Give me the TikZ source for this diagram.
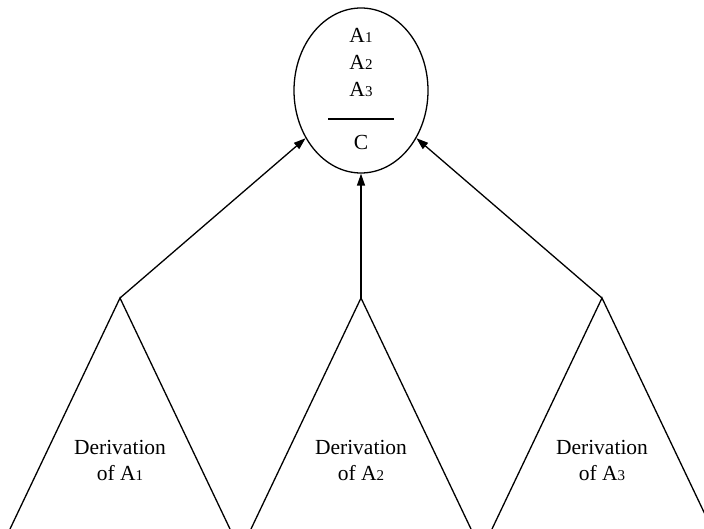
\documentclass[tikz,border=0pt]{standalone}
\usepackage{fontspec}
\setmainfont{Liberation Serif}
\usetikzlibrary{shapes.geometric,arrows.meta}

\newcommand{\idx}[1]{{\fontsize{15}{15}\selectfont #1}}

\def\dW{110}
\def\dH{231}
\def\dT{298}

\begin{document}
\begin{tikzpicture}[x=1pt,y=-1pt,line width=1.3pt,
    txt/.style={anchor=base,inner sep=0pt,font=\fontsize{21.5}{26}\selectfont},
    link/.style={-{Triangle[length=12pt,width=8pt]}}]
    \useasboundingbox (0,0) rectangle (704,529);

    %% goal: the rule with its premises
    \node[draw=black,shape=ellipse,minimum width=134pt,minimum height=165pt,inner sep=0pt] (goal) at (361,90.5) {};

    \node[txt] (P1) at (361, 43) {A\idx{1}};
    \node[txt] (P2) at (361, 70) {A\idx{2}};
    \node[txt] (P3) at (361, 97) {A\idx{3}};
    \coordinate (BL) at (328,119);
    \coordinate (BR) at (394,119);
    \draw (BL) -- (BR);
    \node[txt] (C)  at (361,150) {C};

    %% derivations of the premises
    \foreach \x/\i in {120/1, 361/2, 602/3} {
        \coordinate (T\i) at (\x,\dT);
        \draw (\x-\dW,\dT+\dH) -- (T\i) -- (\x+\dW,\dT+\dH);
        \node[txt] (D\i) at (\x,454) {Derivation};
        \node[txt] (O\i) at (\x,480) {of A\idx{\i}};
        \draw[link] (T\i) -- (goal);
    }

\end{tikzpicture}
\end{document}
